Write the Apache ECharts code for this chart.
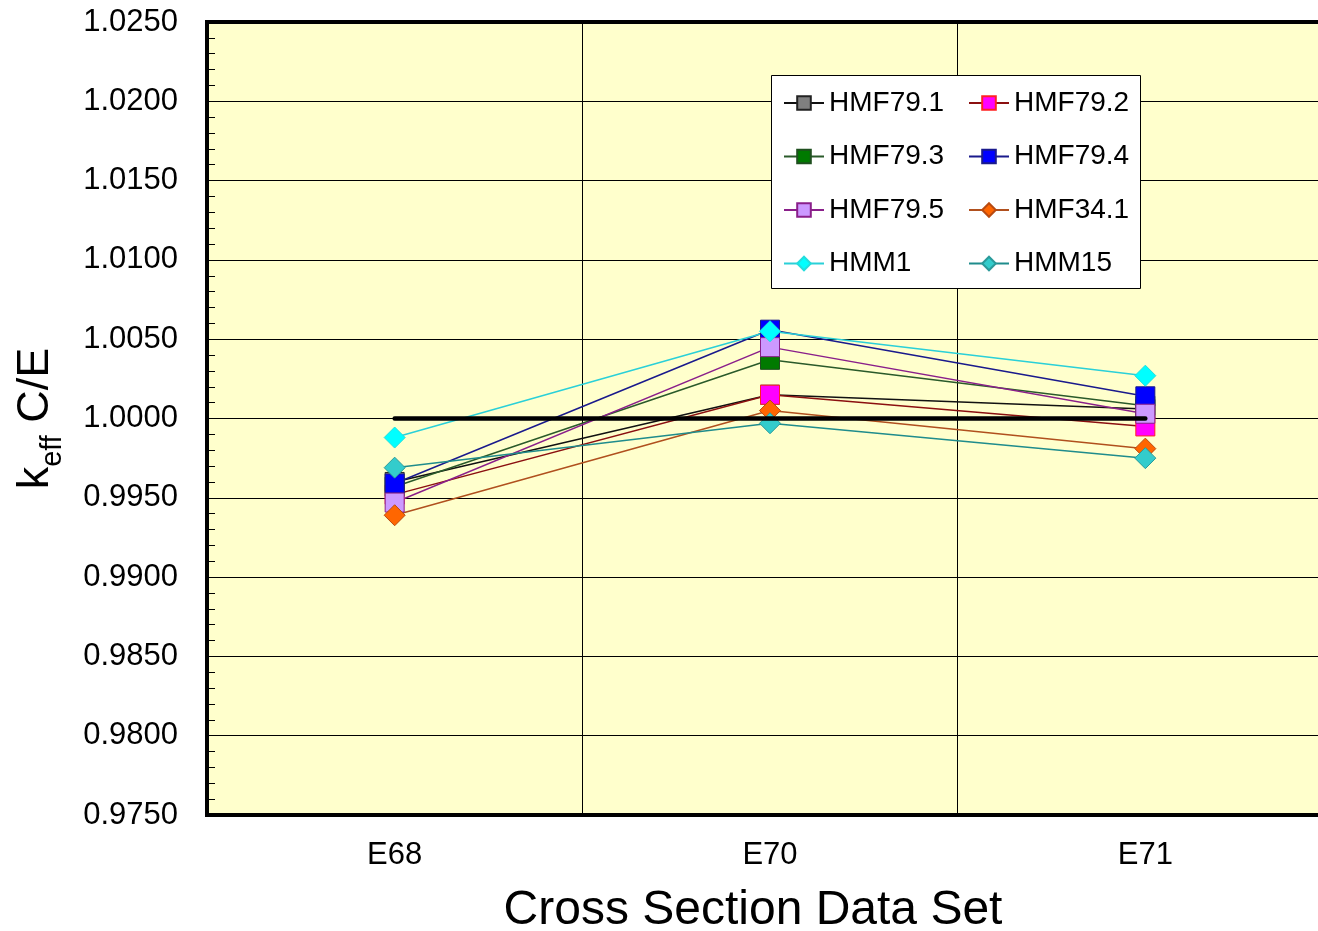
<!DOCTYPE html>
<html>
<head>
<meta charset="utf-8">
<script src="https://cdn.jsdelivr.net/npm/echarts@6/dist/echarts.min.js"></script>
<style>
  html, body { margin: 0; padding: 0; background: #fff; overflow: hidden; }
  #chart { width: 1318px; height: 931px; }
</style>
</head>
<body>
<div id="chart"></div>
<script>
// Cross section data sets on the x axis
const categories = ['E68', 'E70', 'E71'];

// k-eff C/E per benchmark
const hmf79_1 = [0.9960, 1.0015, 1.0006];
const hmf79_2 = [0.9952, 1.0015, 0.9995];
const hmf79_3 = [0.9957, 1.0037, 1.0008];
const hmf79_4 = [0.9959, 1.0056, 1.0014];
const hmf79_5 = [0.9947, 1.0045, 1.0003];
const hmf34_1 = [0.9939, 1.0005, 0.9981];
const hmm1    = [0.9988, 1.0055, 1.0027];
const hmm15   = [0.9969, 0.9997, 0.9975];

// Unity reference line
const unity = [1.0, 1.0, 1.0];

// Y axis range and step
const yMin = 0.975, yMax = 1.025, yStep = 0.005;

const FONT = 'Liberation Sans, Arial, Helvetica, sans-serif';

function mk(name, data, symbol, size, fill, border, line) {
  return {
    name: name,
    type: 'line',
    data: data,
    symbol: symbol,
    symbolSize: size,
    showSymbol: true,
    itemStyle: { color: fill, borderColor: border, borderWidth: 1 },
    lineStyle: { color: line, width: 1.5 },
    emphasis: { disabled: true },
    z: 3
  };
}

const series = [
  mk('HMF79.1', hmf79_1, 'rect', 19, '#808080', '#222222', '#111111'),
  mk('HMF79.2', hmf79_2, 'rect', 19, '#FF00FF', '#FF2222', '#8B1010'),
  mk('HMF79.3', hmf79_3, 'rect', 19, '#007A00', '#1F4F1F', '#2A5A2A'),
  mk('HMF79.4', hmf79_4, 'rect', 19, '#0000FF', '#1A1A8C', '#1A1A8C'),
  mk('HMF79.5', hmf79_5, 'rect', 19, '#CC99FF', '#8A1F8A', '#8A1F8A'),
  mk('HMF34.1', hmf34_1, 'diamond', 21, '#FF6600', '#B84A10', '#B0501E'),
  mk('HMM1',    hmm1,    'diamond', 21, '#00FFFF', '#22DDDD', '#2AD0D8'),
  mk('HMM15',   hmm15,   'diamond', 21, '#33CCCC', '#2A9A9A', '#1F8C8C'),
  {
    name: 'unity',
    type: 'line',
    data: unity,
    symbol: 'none',
    silent: true,
    lineStyle: { color: '#000', width: 4.5, cap: 'round' },
    emphasis: { disabled: true },
    z: 10
  }
];

const legendCommon = {
  orient: 'vertical',
  padding: 0,
  itemWidth: 40,
  itemHeight: 17,
  itemGap: 23.5,
  selectedMode: false,
  textStyle: { fontFamily: FONT, fontSize: 28, color: '#000', lineHeight: 30 },
  z: 20
};

const chart = echarts.init(document.getElementById('chart'), null, { renderer: 'canvas' });

chart.setOption({
  animation: false,
  backgroundColor: '#fff',
  grid: {
    left: 207, top: 22, width: 1126, height: 793,
    outerBoundsMode: 'none',
    containLabel: false,
    show: true,
    backgroundColor: '#FFFFCC',
    borderColor: '#000',
    borderWidth: 4
  },
  legend: [
    Object.assign({}, legendCommon, {
      left: 783, top: 88,
      data: ['HMF79.1', 'HMF79.3', 'HMF79.5', 'HMM1']
    }),
    Object.assign({}, legendCommon, {
      left: 968, top: 88,
      data: ['HMF79.2', 'HMF79.4', 'HMF34.1', 'HMM15']
    })
  ],
  graphic: [{
    type: 'rect',
    shape: { x: 771.5, y: 75.5, width: 369, height: 213 },
    style: { fill: '#fff', stroke: '#000', lineWidth: 1 },
    z: 15
  }],
  xAxis: {
    type: 'category',
    data: categories,
    boundaryGap: true,
    axisLine: { show: true, lineStyle: { color: '#000', width: 4 } },
    axisTick: { show: false },
    axisLabel: { fontFamily: FONT, fontSize: 31, color: '#000', margin: 25 },
    splitLine: { show: true, interval: 0, lineStyle: { color: '#000', width: 1 } },
    name: 'Cross Section Data Set',
    nameLocation: 'middle',
    nameGap: 72,
    nameTextStyle: { fontFamily: FONT, fontSize: 48, color: '#000', padding: [0, 34, 0, 0] }
  },
  yAxis: {
    type: 'value',
    min: yMin,
    max: yMax,
    interval: yStep,
    axisLine: { show: true, lineStyle: { color: '#000', width: 4 } },
    axisTick: { show: true, inside: true, length: 8, lineStyle: { color: '#000', width: 1 } },
    minorTick: { show: true, splitNumber: 5, length: 8, lineStyle: { color: '#000', width: 1 } },
    axisLabel: {
      fontFamily: FONT, fontSize: 31, color: '#000', margin: 29,
      formatter: v => v.toFixed(4)
    },
    splitLine: { show: true, lineStyle: { color: '#000', width: 1 } },
    name: '{k|k}{sub|eff}{n| C/E}',
    nameLocation: 'middle',
    nameGap: 140,
    nameTextStyle: {
      fontFamily: FONT, color: '#000',
      rich: {
        k: { fontFamily: FONT, fontSize: 45, color: '#000', lineHeight: 62, verticalAlign: 'middle' },
        sub: { fontFamily: FONT, fontSize: 29, color: '#000', lineHeight: 29, verticalAlign: 'bottom' },
        n: { fontFamily: FONT, fontSize: 45, color: '#000', lineHeight: 62, verticalAlign: 'middle' }
      }
    }
  },
  series: series
});
</script>
</body>
</html>
